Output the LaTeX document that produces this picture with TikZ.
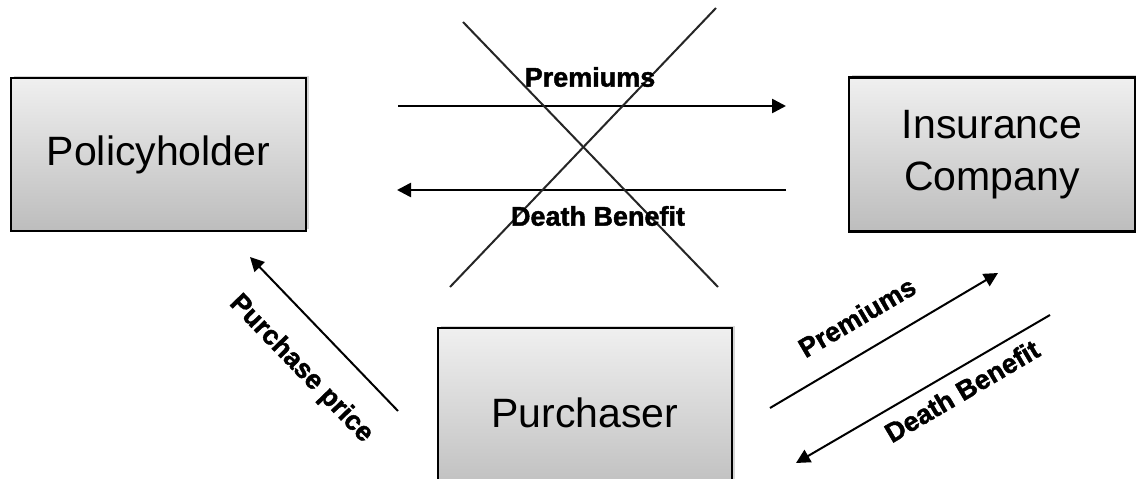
\documentclass[tikz,border=0pt]{standalone}
\usepackage{fontspec}
\setmainfont{Liberation Sans}
\newfontfamily\lblfont[FakeBold=1.6]{Liberation Sans Bold}
\usetikzlibrary{arrows.meta,shadows}

\tikzset{
  party/.style={draw=black, line width=2.6pt, top color=gray!12, bottom color=gray!52,
    drop shadow={shadow xshift=2.5pt, shadow yshift=2.5pt, fill=gray!45, opacity=0.7},
    align=center, font=\fontsize{41}{52}\selectfont, inner sep=0pt},
  flow/.style={line width=2.6pt, -{Triangle[length=14pt,width=14pt]}},
  crossout/.style={line width=2pt, draw=black!85},
  lbl/.style={font=\lblfont\fontsize{27}{32}\selectfont, inner sep=0pt}
}

\begin{document}
\begin{tikzpicture}[x=1pt,y=-1pt]
  \useasboundingbox (0,0) rectangle (1136,479);
  \clip (0,0) rectangle (1136,479);
  \fill[white] (0,0) rectangle (1136,479);

  % parties
  \node[party, minimum width=295pt, minimum height=153pt] (ph) at (158.5,154.5) {Policyholder};
  \node[party, minimum width=286pt, minimum height=154pt] (ic) at (992,154.5) {Insurance\\Company};
  \node[party, minimum width=294pt, minimum height=170pt] (pu) at (585,413) {Purchaser};

  % former direct exchange, crossed out
  \coordinate (p1) at (398,106);  \coordinate (p2) at (786,106);
  \coordinate (d1) at (786,190);  \coordinate (d2) at (397,190);
  \draw[flow] (p1) -- (p2);
  \draw[flow] (d1) -- (d2);
  \coordinate (x1) at (463,22);  \coordinate (x2) at (718,287);
  \coordinate (x3) at (716,8);   \coordinate (x4) at (450,287);
  \draw[crossout] (x1) -- (x2);
  \draw[crossout] (x3) -- (x4);
  \node[lbl] (lp) at (590,77) {Premiums};
  \node[lbl] (ld) at (598,216) {Death Benefit};

  % purchaser pays the policyholder
  \coordinate (s1) at (398,411); \coordinate (s2) at (250,257);
  \draw[flow, line width=2pt] (s1) -- (s2);
  \node[lbl, rotate=-46] (lpp) at (301,369) {Purchase price};

  % purchaser deals with the insurer
  \coordinate (r1) at (770,408); \coordinate (r2) at (998,273);
  \coordinate (b1) at (1050,315); \coordinate (b2) at (796,463);
  \draw[flow, line width=2pt] (r1) -- (r2);
  \draw[flow, line width=2pt] (b1) -- (b2);
  \node[lbl, rotate=30.5] (lrp) at (857,317) {Premiums};
  \node[lbl, rotate=30.5] (lrd) at (962,391) {Death Benefit};
\end{tikzpicture}
\end{document}
